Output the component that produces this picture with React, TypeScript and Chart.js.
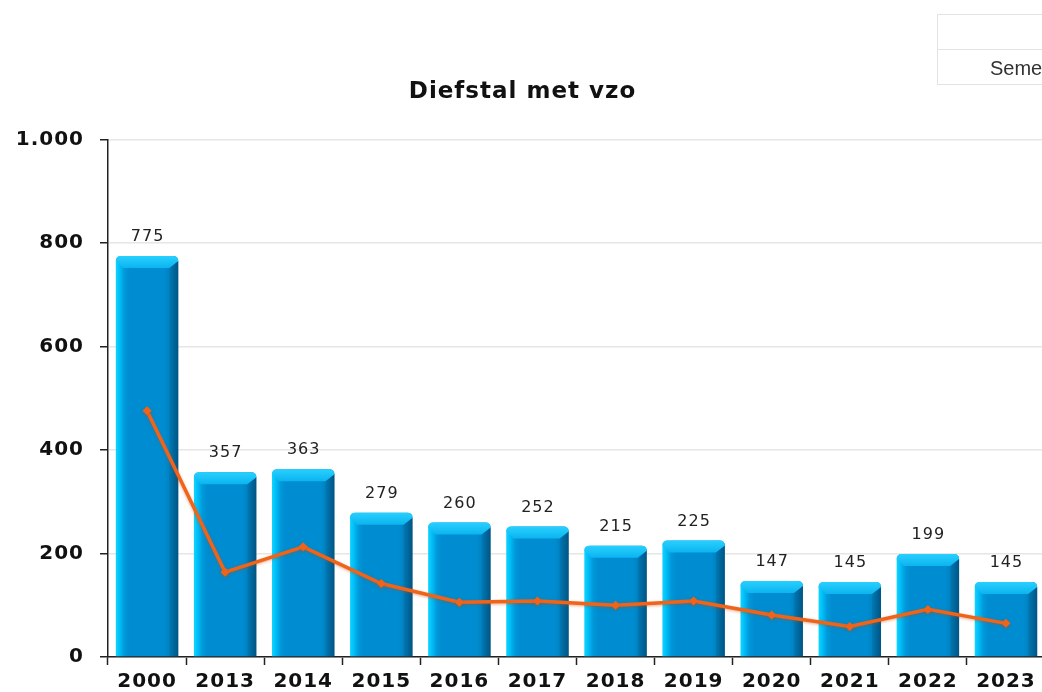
import React, { useEffect, useRef } from "react";
import { Chart, registerables } from "chart.js";

Chart.register(...registerables);

const chartTitle = "Diefstal met vzo";
const categories = ["2000", "2013", "2014", "2015", "2016", "2017", "2018", "2019", "2020", "2021", "2022", "2023"];
const barValues = [775, 357, 363, 279, 260, 252, 215, 225, 147, 145, 199, 145];
const lineValues = [476, 164, 213, 142, 106, 108, 100, 108, 81, 59, 92, 65];
const yMin = 0;
const yMax = 1000;
const yStep = 200;
const tableLabel = "Semester";

const FONT = "'DejaVu Sans', sans-serif";
const BAR_PCT = 0.8;

function formatThousands(v: number): string {
  return String(v).replace(/\B(?=(\d{3})+(?!\d))/g, ".");
}

const spacingPlugin = {
  id: "spacing",
  beforeLayout(chart: any) {
    chart.ctx.letterSpacing = "1px";
  },
  beforeDraw(chart: any) {
    chart.ctx.letterSpacing = "1px";
  },
};

const barDecorPlugin = {
  id: "barDecor",
  beforeDatasetDraw(chart: any, args: any) {
    if (args.index === 1) {
      const ctx = chart.ctx;
      ctx.save();
      ctx.shadowColor = "rgba(200,70,0,0.45)";
      ctx.shadowBlur = 3;
      ctx.shadowOffsetX = 0;
      ctx.shadowOffsetY = 1;
    }
  },
  afterDatasetDraw(chart: any, args: any) {
    const ctx = chart.ctx;
    if (args.index === 1) {
      ctx.restore();
      return;
    }
    if (args.index !== 0) return;
    const meta = chart.getDatasetMeta(0);
    const bottom = chart.chartArea.bottom;
    ctx.save();
    meta.data.forEach((bar: any) => {
      const { x, y, width } = bar.getProps(["x", "y", "width"], true);
      const l = x - width / 2;
      const r = x + width / 2;
      const h = 12;
      const rg = ctx.createLinearGradient(r - 9, 0, r, 0);
      rg.addColorStop(0, "rgba(0,70,110,0.15)");
      rg.addColorStop(1, "rgba(0,50,85,0.45)");
      ctx.fillStyle = rg;
      ctx.beginPath();
      ctx.moveTo(r, y + 5);
      ctx.lineTo(r, bottom);
      ctx.lineTo(r - 9, bottom);
      ctx.lineTo(r - 9, y + h);
      ctx.closePath();
      ctx.fill();
      const g = ctx.createLinearGradient(0, y, 0, y + h);
      g.addColorStop(0, "#28d0ff");
      g.addColorStop(1, "#0cb4f0");
      ctx.fillStyle = g;
      ctx.beginPath();
      ctx.moveTo(l, y + 5);
      ctx.quadraticCurveTo(l, y, l + 5, y);
      ctx.lineTo(r - 5, y);
      ctx.quadraticCurveTo(r, y, r, y + 5);
      ctx.lineTo(r - 9, y + h);
      ctx.lineTo(l + 7, y + h);
      ctx.closePath();
      ctx.fill();
    });
    ctx.restore();
  },
  afterDatasetsDraw(chart: any) {
    const ctx = chart.ctx;
    const meta = chart.getDatasetMeta(0);
    ctx.save();
    ctx.letterSpacing = "1px";
    ctx.font = `16px ${FONT}`;
    ctx.fillStyle = "#222";
    ctx.textAlign = "center";
    ctx.textBaseline = "middle";
    meta.data.forEach((bar: any, i: number) => {
      const { x, y } = bar.getProps(["x", "y"], true);
      ctx.fillText(String(barValues[i]), x + 0.5, y - 19);
    });
    ctx.restore();
  },
};

export default function App() {
  const ref = useRef<HTMLCanvasElement | null>(null);

  useEffect(() => {
    if (!ref.current) return;
    const chart = new Chart(ref.current, {
      type: "bar",
      data: {
        labels: categories,
        datasets: [
          {
            type: "bar",
            label: "Aantal",
            data: barValues,
            order: 2,
            barPercentage: BAR_PCT,
            categoryPercentage: 1,
            borderRadius: { topLeft: 5, topRight: 5, bottomLeft: 0, bottomRight: 0 },
            borderSkipped: "bottom",
            backgroundColor: (c: any) => {
              const ch = c.chart;
              const xs = ch.scales && ch.scales.x;
              if (!xs || !ch.chartArea || c.dataIndex === undefined) return "#0088cc";
              const cx = xs.getPixelForValue(c.dataIndex);
              const w = (xs.width / categories.length) * BAR_PCT;
              const g = ch.ctx.createLinearGradient(cx - w / 2, 0, cx + w / 2, 0);
              g.addColorStop(0, "#10d4ff");
              g.addColorStop(0.06, "#00bff8");
              g.addColorStop(0.14, "#0098da");
              g.addColorStop(0.22, "#008cd0");
              g.addColorStop(0.78, "#008cd0");
              g.addColorStop(1, "#0070a8");
              return g;
            },
          } as any,
          {
            type: "line",
            label: "Lijn",
            data: lineValues,
            order: 1,
            borderColor: "#f0641a",
            backgroundColor: "#f0641a",
            borderWidth: 3.5,
            pointStyle: "rectRot",
            pointRadius: 4.5,
            pointBorderWidth: 0,
            pointBackgroundColor: "#f0641a",
            pointBorderColor: "#f0641a",
            tension: 0,
          } as any,
        ],
      },
      options: {
        responsive: false,
        animation: false,
        layout: { padding: { left: 0, right: 13, top: 0, bottom: 0 } },
        plugins: {
          legend: { display: false },
          tooltip: { enabled: false },
          title: {
            display: true,
            text: chartTitle,
            color: "#111",
            font: { family: FONT, size: 23, weight: "bold" },
            padding: { top: 78, bottom: 34 },
          },
        },
        scales: {
          x: {
            grid: {
              display: true,
              offset: true,
              drawOnChartArea: false,
              drawTicks: true,
              tickLength: 8,
              tickColor: "#222",
              tickWidth: 1.5,
            },
            border: { display: true, color: "#222", width: 1.5 },
            ticks: {
              color: "#111",
              font: { family: FONT, size: 20, weight: "bold" },
              padding: 5,
              maxRotation: 0,
              autoSkip: false,
            },
            afterFit: (s: any) => {
              s.height = 43;
            },
          },
          y: {
            min: yMin,
            max: yMax,
            grid: {
              color: "#e6e6e6",
              lineWidth: 1.5,
              drawTicks: true,
              tickLength: 8,
              tickColor: "#222",
              tickWidth: 1.5,
            },
            border: { display: true, color: "#222", width: 1.5 },
            ticks: {
              stepSize: yStep,
              color: "#111",
              font: { family: FONT, size: 20, weight: "bold" },
              padding: 16,
              callback: (v: any) => formatThousands(Number(v)),
            },
            afterFit: (s: any) => {
              s.width = 108;
            },
          },
        },
      },
      plugins: [spacingPlugin, barDecorPlugin],
    } as any);
    return () => chart.destroy();
  }, []);

  return (
    <div
      style={{
        position: "fixed",
        left: 0,
        top: 0,
        width: 1042,
        height: 692,
        overflow: "hidden",
        background: "#fff",
      }}
    >
      <canvas ref={ref} width={1058} height={700} style={{ position: "absolute", left: 0, top: 0, display: "block" }} />
      <div
        style={{
          position: "absolute",
          left: 937,
          top: 14,
          width: 200,
          height: 71,
          border: "1px solid #e3e3e3",
          boxSizing: "border-box",
          fontFamily: "'Liberation Sans', Arial, sans-serif",
          color: "#333",
          fontSize: 20,
        }}
      >
        <div style={{ height: 35, borderBottom: "1px solid #e3e3e3", boxSizing: "border-box" }} />
        <div style={{ height: 34, lineHeight: "36px", paddingLeft: 52, whiteSpace: "nowrap" }}>{tableLabel}</div>
      </div>
    </div>
  );
}
